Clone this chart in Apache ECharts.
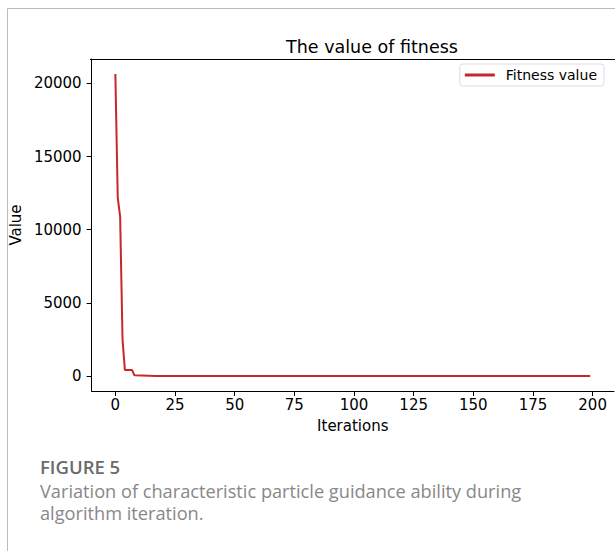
<!DOCTYPE html>
<html>
<head>
<meta charset="utf-8">
<script src="https://cdn.jsdelivr.net/npm/echarts@6/dist/echarts.min.js"></script>
<style>
html,body{margin:0;padding:0;background:#fff;}
#chart{width:615px;height:551px;}
</style>
</head>
<body>
<div id="chart"></div>
<script>
// Data
var iterations = [0, 1, 2, 3, 4, 7, 8, 17, 199];
var fitnessValues = [20650, 12200, 10900, 2500, 400, 400, 40, 0, 0];
var xTickLabels = [0, 25, 50, 75, 100, 125, 150, 175, 200];
var yTickLabels = [0, 5000, 10000, 15000, 20000];
var seriesName = 'Fitness value';

var seriesData = iterations.map(function (x, i) { return [x, fitnessValues[i]]; });

var chart = echarts.init(document.getElementById('chart'), null, {renderer: 'svg'});
var font = 'DejaVu Sans';
chart.setOption({
  animation: false,
  backgroundColor: '#fff',
  title: {
    text: 'The value of fitness',
    left: 367, top: 33,
    textAlign: 'center',
    textStyle: {fontFamily: font, fontSize: 17.5, fontWeight: 'normal', color: '#000'}
  },
  legend: {
    right: 11, top: 64,
    data: [seriesName],
    icon: 'rect',
    itemWidth: 30, itemHeight: 3,
    padding: [4, 7, 4, 5],
    borderColor: '#ddd', borderWidth: 1, borderRadius: 3,
    textStyle: {fontFamily: font, fontSize: 14, color: '#000', padding: [0, 0, 0, 6]}
  },
  grid: {left: 90, right: 1, top: 59, bottom: 160},
  xAxis: {
    type: 'value',
    min: -9.95, max: 208.95,
    name: 'Iterations',
    nameLocation: 'middle',
    nameGap: 27,
    nameTextStyle: {fontFamily: font, fontSize: 15, color: '#000'},
    axisLine: {show: true, onZero: false, lineStyle: {color: '#000', width: 1}},
    axisTick: {show: true, length: 5, lineStyle: {color: '#000'}, customValues: xTickLabels},
    axisLabel: {fontFamily: font, fontSize: 15, color: '#000', margin: 6, customValues: xTickLabels,
      formatter: function (v) { return String(v); }},
    splitLine: {show: false}
  },
  yAxis: {
    type: 'value',
    min: -1032, max: 21672,
    name: 'Value',
    nameLocation: 'middle',
    nameGap: 64,
    nameRotate: 90,
    nameTextStyle: {fontFamily: font, fontSize: 15, color: '#000'},
    axisLine: {show: true, onZero: false, lineStyle: {color: '#000', width: 1}},
    axisTick: {show: true, length: 5, lineStyle: {color: '#000'}, customValues: yTickLabels},
    axisLabel: {fontFamily: font, fontSize: 15, color: '#000', margin: 10, customValues: yTickLabels,
      formatter: function (v) { return String(v); }},
    splitLine: {show: false}
  },
  series: [{
    name: seriesName,
    type: 'line',
    data: seriesData,
    showSymbol: false,
    symbol: 'none',
    lineStyle: {color: '#c62828', width: 2},
    itemStyle: {color: '#c62828'}
  }],
  graphic: [
    {type: 'line', shape: {x1: 7.5, y1: 8.5, x2: 7.5, y2: 551}, style: {stroke: '#bbb', lineWidth: 1}},
    {type: 'line', shape: {x1: 7.5, y1: 8.5, x2: 615, y2: 8.5}, style: {stroke: '#bbb', lineWidth: 1}},
    {type: 'line', shape: {x1: 90, y1: 59.5, x2: 615, y2: 59.5}, style: {stroke: '#000', lineWidth: 1}},
    {type: 'text', style: {x: 40, y: 466.5, text: 'FIGURE 5', font: '600 18.5px "Open Sans"', fill: '#6b6b6b', verticalAlign: 'middle'}},
    {type: 'text', style: {x: 40, y: 479.5,
      text: 'Variation of characteristic particle guidance ability during\nalgorithm iteration.',
      font: '18.2px "Open Sans"', lineHeight: 22, fill: '#888', verticalAlign: 'top'}}
  ]
});
</script>
</body>
</html>
